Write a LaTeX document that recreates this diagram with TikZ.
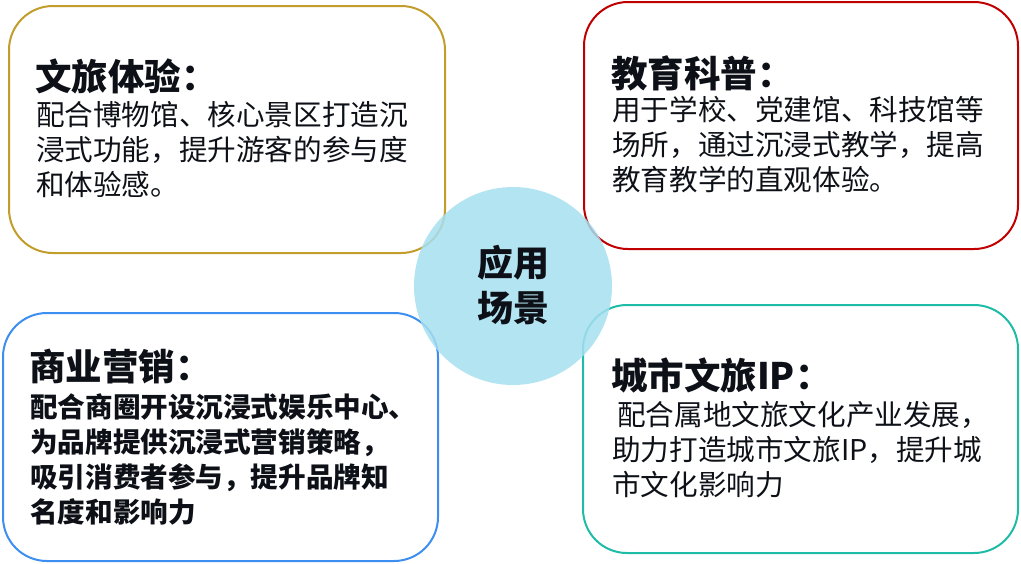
\documentclass[tikz,border=0pt]{standalone}
\usepackage{fontspec}
\newfontfamily\cjk{Noto Sans CJK SC}
\definecolor{goldc}{HTML}{C29D2B}
\definecolor{redc}{HTML}{C00000}
\definecolor{bluec}{HTML}{3C8EF0}
\definecolor{tealc}{HTML}{1EBCA6}
\definecolor{circc}{HTML}{A6DFF0}
\definecolor{ink}{HTML}{0D1117}
\tikzset{
  card/.style={line width=2pt, rounded corners=44pt},
  ttl/.style={anchor=base west, inner sep=0pt, text=ink, font=\cjk\bfseries\fontsize{36.5}{42}\selectfont},
  body/.style={anchor=base west, inner sep=0pt, text=ink, font=\cjk\fontsize{28.6}{34}\selectfont},
  bodyb/.style={anchor=base west, inner sep=0pt, text=ink, font=\cjk\bfseries\fontsize{27.6}{34}\selectfont},
  ctr/.style={anchor=base, inner sep=0pt, text=ink, font=\cjk\bfseries\fontsize{36}{43}\selectfont}
}
\begin{document}
\begin{tikzpicture}[x=1pt,y=-1pt]
\useasboundingbox (0,0) rectangle (1021,563);
\draw[card, goldc] (9,6) rectangle (445,253);
\draw[card, redc] (584,2) rectangle (1018,249);
\draw[card, bluec] (3,313) rectangle (438,561);
\draw[card, tealc] (583,305) rectangle (1018,553);
\fill[circc, fill opacity=0.85] (513,286) circle (99);
% top-left
\node[ttl] (t1) at (35,90) {文旅体验：};
\node[body] (b1a) at (36,125) {配合博物馆、核心景区打造沉};
\node[body] (b1b) at (36,160) {浸式功能，提升游客的参与度};
\node[body] (b1c) at (36,195) {和体验感。};
% top-right
\node[ttl] (t2) at (611,87) {教育科普：};
\node[body] (b2a) at (612,120) {用于学校、党建馆、科技馆等};
\node[body] (b2b) at (612,155) {场所，通过沉浸式教学，提高};
\node[body] (b2c) at (612,190) {教育教学的直观体验。};
% bottom-left
\node[ttl] (t3) at (29,380) {商业营销：};
\node[bodyb] (b3a) at (30,417) {配合商圈开设沉浸式娱乐中心、};
\node[bodyb] (b3b) at (30,452) {为品牌提供沉浸式营销策略，};
\node[bodyb] (b3c) at (30,487) {吸引消费者参与，提升品牌知};
\node[bodyb] (b3d) at (30,522) {名度和影响力};
% bottom-right
\node[ttl] (t4) at (611,389) {城市文旅IP：};
\node[body] (b4a) at (617,425) {配合属地文旅文化产业发展，};
\node[body] (b4b) at (612,460) {助力打造城市文旅IP，提升城};
\node[body] (b4c) at (612,495) {市文化影响力};
% centre
\node[ctr] (c1) at (513,276) {应用};
\node[ctr] (c2) at (513,321) {场景};
\end{tikzpicture}
\end{document}
